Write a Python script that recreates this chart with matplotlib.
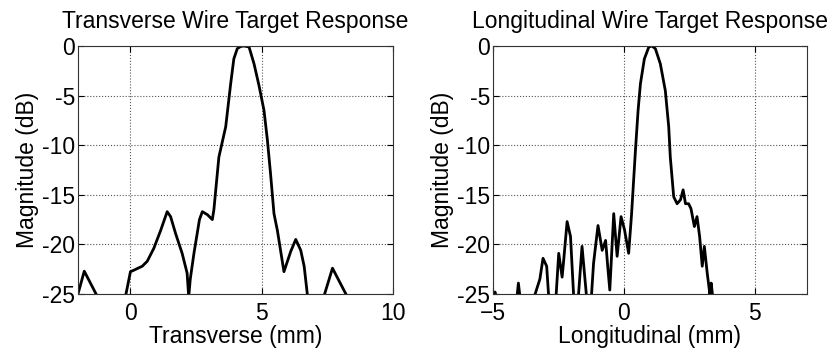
import matplotlib.pyplot as plt
import numpy as np

plt.rcParams['font.family'] = ['Liberation Sans', 'DejaVu Sans']

# transverse response (mm, dB); values < -25 fall below the axis
trans_x = [-2.2, -2.0, -1.76, -1.31, -1.0, -0.4, -0.17, 0.0, 0.13, 0.45, 0.64, 0.89, 1.15,
           1.40, 1.53, 1.72, 1.97, 2.16, 2.22, 2.28, 2.42, 2.63, 2.74, 2.93, 3.12, 3.18, 3.37,
           3.63, 3.82, 3.94, 4.07, 4.20, 4.33, 4.52, 4.71, 4.90, 5.09, 5.22, 5.34, 5.47, 5.60,
           5.85, 6.11, 6.30, 6.49, 6.62, 6.74, 6.85, 7.2, 7.40, 7.70, 8.21, 8.4, 9.0, 10.0]
trans_y = [-27.0, -25.0, -22.7, -25.0, -27.0, -27.5, -25.0, -22.75, -22.6, -22.2, -21.7, -20.4, -18.6,
           -16.7, -17.2, -18.9, -20.9, -22.9, -25.3, -23.5, -20.9, -17.5, -16.7, -17.0, -17.5, -16.5, -11.2,
           -8.15, -3.8, -1.3, -0.27, -0.05, 0.0, -0.1, -1.8, -4.0, -6.5, -9.5, -12.9, -16.9, -18.6,
           -22.75, -20.7, -19.5, -20.6, -22.2, -25.0, -27.0, -27.5, -25.0, -22.4, -25.0, -26.5, -28.0, -28.0]

# longitudinal response (mm, dB)
long_x = [-5.1, -4.95, -4.91, -4.85, -4.1, -4.02, -3.95, -3.6, -3.38, -3.2, -3.08, -2.94, -2.87,
          -2.6, -2.48, -2.35, -2.29, -2.16, -2.03, -1.91, -1.75, -1.59, -1.42, -1.25, -1.15,
          -0.98, -0.82, -0.69, -0.60, -0.53, -0.38, -0.25, -0.10, 0.03, 0.19, 0.30, 0.45, 0.55,
          0.64, 0.79, 0.96, 1.08, 1.21, 1.40, 1.59, 1.72, 1.78, 1.91, 2.04, 2.17, 2.27, 2.36,
          2.48, 2.57, 2.70, 2.80, 2.90, 3.00, 3.08, 3.19, 3.29, 3.34, 3.41, 3.6, 4.5, 7.0]
long_y = [-26.0, -25.0, -24.8, -25.5, -26.0, -23.9, -25.5, -26.0, -25.0, -23.5, -21.4, -22.2, -25.0,
          -26.0, -20.9, -23.3, -21.6, -17.7, -19.2, -25.2, -26.0, -20.2, -25.2, -26.0, -21.9,
          -18.1, -20.6, -19.6, -22.5, -24.6, -16.9, -21.2, -17.2, -18.5, -20.9, -17.0, -10.5, -6.5,
          -3.8, -1.3, -0.1, 0.0, -0.27, -1.8, -4.5, -8.15, -11.2, -15.2, -15.9, -15.5, -14.5, -15.9,
          -15.9, -16.4, -18.2, -17.2, -19.2, -22.2, -20.2, -22.9, -25.0, -23.9, -25.5, -27.0, -28.0, -28.0]

fig = plt.figure(figsize=(8.33, 3.54), dpi=100)
ax1 = fig.add_axes([0.0936, 0.1695, 0.378, 0.7006])
ax2 = fig.add_axes([0.5915, 0.1695, 0.3773, 0.7006])

panels = [
    (ax1, trans_x, trans_y, (-2, 10), [0, 5, 10], 'Transverse (mm)', 'Transverse Wire Target Response'),
    (ax2, long_x, long_y, (-5, 7), [-5, 0, 5], 'Longitudinal (mm)', 'Longitudinal Wire Target Response'),
]

for ax, xs, ys, xlim, xt, xlab, title in panels:
    ax.plot(xs, ys, color='black', lw=2.0, solid_joinstyle='round')
    ax.set_xlim(*xlim)
    ax.set_ylim(-25, 0)
    ax.set_xticks(xt)
    ax.set_yticks([0, -5, -10, -15, -20, -25])
    ax.set_yticklabels(['0', '-5', '-10', '-15', '-20', '-25'])
    ax.tick_params(direction='in', labelsize=16.5, length=4, width=0.8,
                   top=True, right=True)
    ax.tick_params(axis='x', pad=6)
    ax.tick_params(axis='y', pad=2)
    ax.grid(True, linestyle=':', color='#555555', linewidth=0.8)
    ax.set_xlabel(xlab, fontsize=16.5, labelpad=0)
    ax.set_ylabel('Magnitude (dB)', fontsize=16.5, labelpad=2)
    ax.set_title(title, fontsize=16.5, pad=13)
    for s in ax.spines.values():
        s.set_linewidth(0.8)
        s.set_color('#333333')

fig.savefig('out.png', dpi=100)
